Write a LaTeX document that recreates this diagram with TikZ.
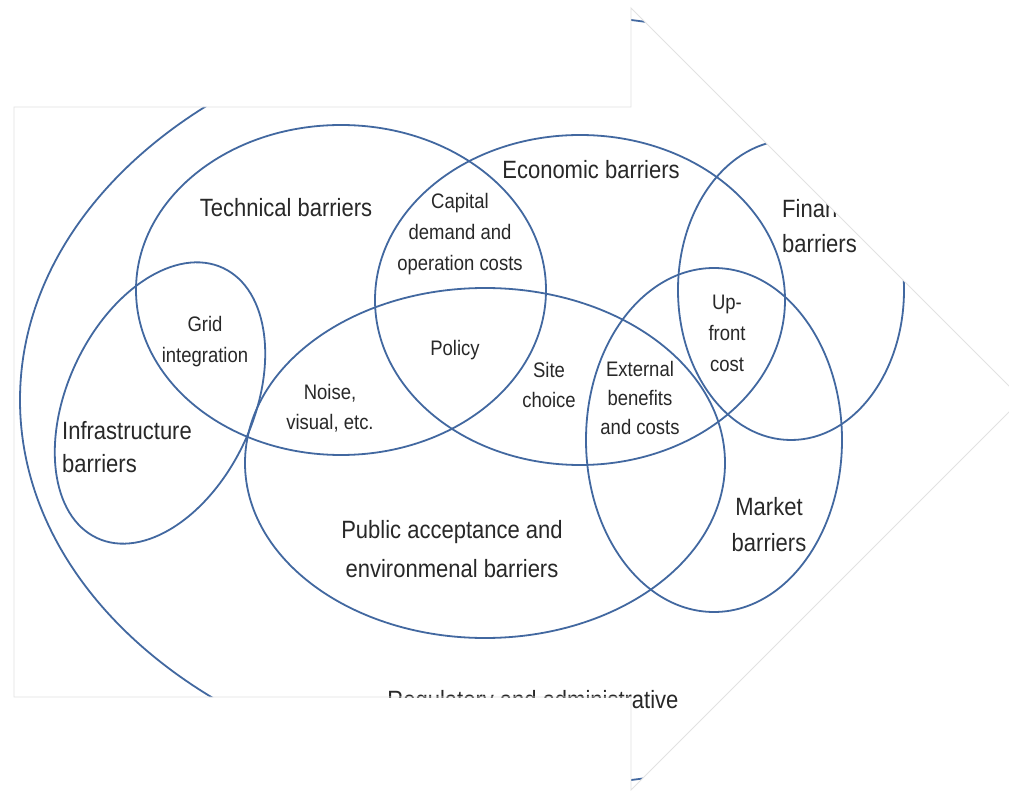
\documentclass[tikz,border=0pt]{standalone}
\usepackage{fontspec}
\setmainfont{Liberation Sans}[FakeStretch=0.88]
\definecolor{vline}{RGB}{66,104,160}
\definecolor{vtext}{RGB}{40,40,40}
\definecolor{arrowedge}{RGB}{226,226,226}
\begin{document}
\begin{tikzpicture}[x=1pt,y=-1pt,
  venn/.style={draw=vline, line width=1.8pt},
  big/.style={font=\fontsize{25}{36}\selectfont, text=vtext, align=center, inner sep=0pt},
  small/.style={font=\fontsize{21}{31}\selectfont, text=vtext, align=center, inner sep=0pt}]
\useasboundingbox (0,0) rectangle (1009,791);
\fill[white] (0,0) rectangle (1009,791);
\begin{scope}
\clip (14,107) -- (631,107) -- (631,8) -- (1022,399) -- (631,790) -- (631,697) -- (14,697) -- cycle;
% outer ellipse: regulatory and administrative
\draw[venn] (546,400) ellipse [x radius=526pt, y radius=385pt];
% technical
\draw[venn] (341,290) ellipse [x radius=205pt, y radius=165pt];
% economic
\draw[venn] (580,300) ellipse [x radius=205pt, y radius=165pt];
% public acceptance
\draw[venn] (485,463) ellipse [x radius=240pt, y radius=175pt];
% market
\draw[venn] (714,440) ellipse [x radius=128pt, y radius=172pt];
% financial
\draw[venn] (791,290) ellipse [x radius=113pt, y radius=150pt];
% infrastructure
\draw[venn] (160,403) ellipse [x radius=93pt, y radius=149pt, rotate=-25];
% labels
\node[big] (tech) at (286,208) {Technical barriers};
\node[big] (econ) at (591,170) {Economic barriers};
\node[big, align=left, anchor=west, font=\fontsize{25}{35}\selectfont] (fin) at (782,226) {Financial\\barriers};
\node[big, align=left, anchor=west, font=\fontsize{25}{33}\selectfont] (infra) at (62,447) {Infrastructure\\barriers};
\node[big] (market) at (769,525) {Market\\barriers};
\node[big, font=\fontsize{25}{39}\selectfont] (public) at (452,549) {Public acceptance and\\environmenal barriers};
\node[big] (reg) at (533,702) {Regulatory and administrative};
\node[small] (capital) at (460,234) {Capital\\demand and\\operation costs};
\node[small] (policy) at (455,350) {Policy};
\node[small, font=\fontsize{21}{30}\selectfont] (noise) at (330,408) {Noise,\\visual, etc.};
\node[small, font=\fontsize{21}{30}\selectfont] (site) at (549,385) {Site\\choice};
\node[small, font=\fontsize{21}{29}\selectfont] (ext) at (640,398) {External\\benefits\\and costs};
\node[small] (upfront) at (727,333) {Up-\\front\\cost};
\node[small] (grid) at (205,342) {Grid\\integration};
\end{scope}
\draw[arrowedge, line width=0.9pt] (14,107) -- (631,107) -- (631,8) -- (1022,399) -- (631,790) -- (631,697) -- (14,697) -- cycle;
\end{tikzpicture}
\end{document}
